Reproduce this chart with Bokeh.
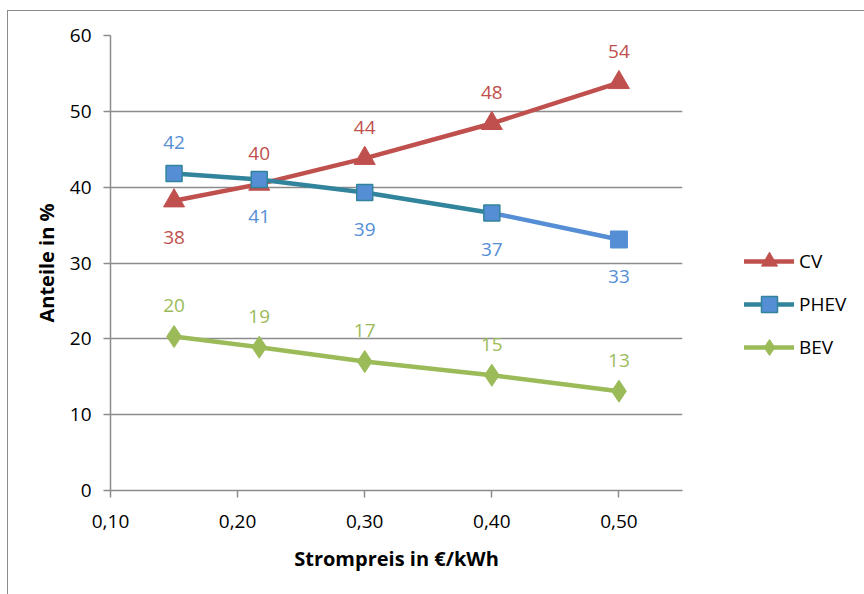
from bokeh.plotting import figure
from bokeh.models import FixedTicker, Legend, LegendItem, ColumnDataSource, Range1d
from bokeh.core.properties import value
from bokeh.embed import file_html
from bokeh.resources import INLINE

# ---- data ----
strompreis = [0.15, 0.217, 0.30, 0.40, 0.50]
cv = [38.2, 40.4, 43.8, 48.4, 53.8]
phev = [41.8, 41.0, 39.3, 36.6, 33.1]
bev = [20.3, 18.9, 17.0, 15.2, 13.1]
x_ticks = [0.10, 0.20, 0.30, 0.40, 0.50]
x_tick_labels = ["0,10", "0,20", "0,30", "0,40", "0,50"]
y_ticks = [0, 10, 20, 30, 40, 50, 60]
cv_label_pos = ["below", "above", "above", "above", "above"]
phev_label_pos = ["above", "below", "below", "below", "below"]
bev_label_pos = ["above", "above", "above", "above", "above"]

FONT = "Open Sans"
C_CV = "#C0504D"
C_PHEV_LINE = "#31849B"
C_PHEV = "#558ED5"
C_BEV = "#9BBB59"
GRID = "#8C8C8C"

p = figure(frame_width=572, frame_height=455, output_backend="svg", toolbar_location=None,
           x_range=Range1d(0.10, 0.55), y_range=Range1d(0, 60),
           min_border_left=102, min_border_right=0, min_border_top=24,
           min_border_bottom=104)
p.styles = {"border-left": "1px solid #8C8C8C", "border-top": "1px solid #8C8C8C",
            "margin-left": "7px", "margin-top": "10px"}
p.outline_line_color = None
p.background_fill_color = "white"
p.border_fill_color = "white"

# axes
p.xaxis.ticker = FixedTicker(ticks=x_ticks)
p.xaxis.major_label_overrides = {t: l for t, l in zip(x_ticks, x_tick_labels)}
p.yaxis.ticker = FixedTicker(ticks=y_ticks)
for ax in (p.xaxis, p.yaxis):
    ax.axis_line_color = GRID
    ax.axis_line_width = 1.5
    ax.major_tick_line_color = GRID
    ax.major_tick_line_width = 1.5
    ax.major_tick_out = 7
    ax.major_tick_in = 0
    ax.minor_tick_line_color = None
    ax.major_label_text_font = FONT
    ax.major_label_text_font_size = "19px"
    ax.major_label_text_color = "black"
    ax.axis_label_text_font = FONT
    ax.axis_label_text_font_size = "20px"
    ax.axis_label_text_font_style = "bold"
    ax.axis_label_text_color = "black"
p.xaxis.axis_label = "Strompreis in €/kWh"
p.yaxis.axis_label = "Anteile in %"
p.xaxis.major_label_standoff = 17
p.yaxis.major_label_standoff = 12
p.xaxis.axis_label_standoff = 14
p.yaxis.axis_label_standoff = 7

p.xgrid.grid_line_color = None
p.ygrid.grid_line_color = GRID
p.ygrid.grid_line_width = 1.5

def offsets(pos):
    return [-31 if q == "above" else 37 for q in pos]

def labels(vals):
    return [f"{v:.0f}" for v in vals]

# CV
cv_line = p.line(strompreis, cv, line_color=C_CV, line_width=4.5, line_cap="round")
cv_mark = p.scatter(strompreis, cv, marker="triangle", size=21,
                    fill_color=C_CV, line_color=C_CV)

# PHEV
phev_line = p.line(strompreis[:4], phev[:4], line_color=C_PHEV_LINE, line_width=4.5,
                   line_cap="round")
p.line(strompreis[3:], phev[3:], line_color=C_PHEV, line_width=4.5, line_cap="round")
phev_mark = p.scatter(strompreis[:4], phev[:4], marker="square", size=16,
                      fill_color=C_PHEV, line_color=C_PHEV_LINE, line_width=1.5)
p.scatter(strompreis[4:], phev[4:], marker="square", size=17,
          fill_color=C_PHEV, line_color=C_PHEV)

# BEV
bev_line = p.line(strompreis, bev, line_color=C_BEV, line_width=4.5, line_cap="round")
bev_mark = p.scatter(strompreis, bev, marker="diamond", size=22,
                     fill_color=C_BEV, line_color=C_BEV)

# data labels
for vals, pos, col in ((cv, cv_label_pos, C_CV), (phev, phev_label_pos, C_PHEV),
                       (bev, bev_label_pos, C_BEV)):
    src = ColumnDataSource(dict(x=strompreis, y=vals, t=labels(vals), dy=offsets(pos)))
    p.text(x="x", y="y", text="t", y_offset="dy", source=src,
           text_align="center", text_baseline="middle",
           text_font=value(FONT), text_font_size="19px", text_color=col)

legend = Legend(items=[
    LegendItem(label="CV", renderers=[cv_line, cv_mark]),
    LegendItem(label="PHEV", renderers=[phev_line, phev_mark]),
    LegendItem(label="BEV", renderers=[bev_line, bev_mark]),
], location=(62, 123))
legend.glyph_width = 50
legend.glyph_height = 40
legend.spacing = 3
legend.padding = 0
legend.margin = 0
legend.label_standoff = 5
legend.border_line_color = None
legend.background_fill_alpha = 0
legend.label_text_font = FONT
legend.label_text_font_size = "19px"
legend.label_text_color = "black"
p.add_layout(legend, "right")

open("out.html", "w").write(file_html(p, INLINE))
